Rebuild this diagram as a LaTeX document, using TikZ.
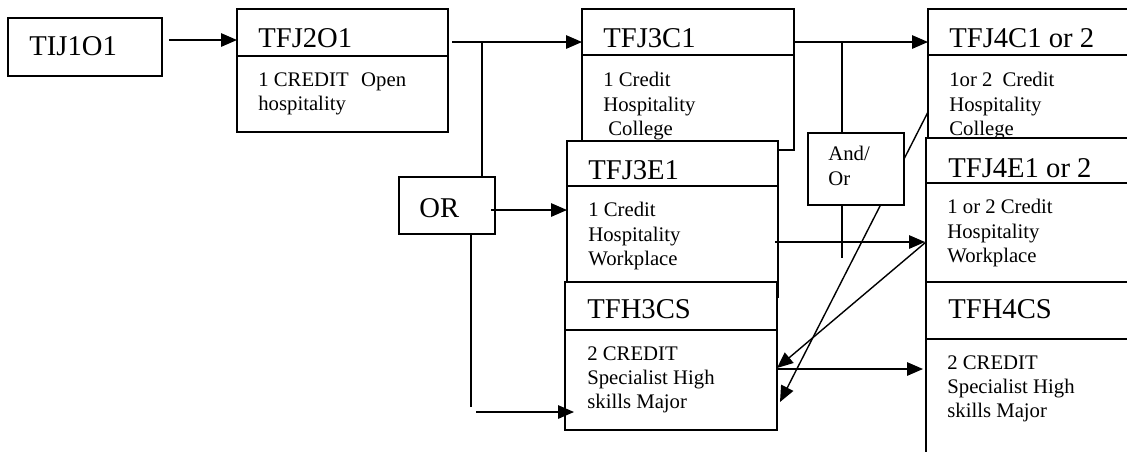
\documentclass[tikz,border=0pt]{standalone}
\usepackage{fontspec}
\setmainfont{Liberation Serif}
\usetikzlibrary{arrows.meta,calc,fit}

\tikzset{
  box/.style={draw, fill=white, line width=0.7pt, inner sep=0pt, outer sep=0pt},
  rule/.style={line width=0.7pt},
  course/.style={font=\fontsize{16.3}{19}\selectfont, inner sep=0pt, anchor=base west},
  info/.style={font=\fontsize{11.8}{13.9}\selectfont, inner sep=0pt, align=left, anchor=north west},
  line/.style={line width=0.8pt},
  link/.style={line width=0.8pt, -{Triangle[length=0.32cm,width=0.27cm]}}
}

\begin{document}
\begin{tikzpicture}[x=0.02cm, y=-0.02cm]
\useasboundingbox (0,0) rectangle (1127,451);

% grade 9 and 10
\node[box, fit={(8,18) (162,76)}] (tij) {};
\node[course] (tijt) at (29,55) {TIJ1O1};

\node[box, fit={(237,9) (448,132)}] (tfj2) {};
\draw[rule] (tfj2.west |- 0,56) -- (tfj2.east |- 0,56);
\node[course] (tfj2t) at (258,47) {TFJ2O1};
\node[info] (tfj2b) at (258,72) {1 CREDIT\hspace{0.25cm}Open\\hospitality};

% grade 11
\node[box, fit={(582,9) (794,150)}] (tfj3c) {};
\draw[rule] (tfj3c.west |- 0,55) -- (tfj3c.east |- 0,55);
\node[course] (tfj3ct) at (603,47) {TFJ3C1};
\node[info] (tfj3cb) at (603,72) {1 Credit\\Hospitality\\\hspace{0.1cm}College};

\node[box, fit={(567,141) (778,297)}] (tfj3e) {};
\draw[rule] (tfj3e.west |- 0,186) -- (tfj3e.east |- 0,186);
\node[course] (tfj3et) at (588,179) {TFJ3E1};
\node[info] (tfj3eb) at (588,202) {1 Credit\\Hospitality\\Workplace};

\node[box, fit={(565,282) (777,430)}] (tfh3) {};
\draw[rule] (tfh3.west |- 0,330) -- (tfh3.east |- 0,330);
\node[course] (tfh3t) at (587,318) {TFH3CS};
\node[info] (tfh3b) at (587,346) {2 CREDIT\\Specialist High\\skills Major};

% grade 12
\node[box, fit={(928,9) (1140,150)}] (tfj4c) {};
\draw[rule] (tfj4c.west |- 0,55) -- (tfj4c.east |- 0,55);
\node[course] (tfj4ct) at (949,47) {TFJ4C1 or 2};
\node[info] (tfj4cb) at (949,72) {1or 2\hspace{0.2cm}Credit\\Hospitality\\College};

\node[box, fit={(926,138) (1140,297)}] (tfj4e) {};
\draw[rule] (tfj4e.west |- 0,183) -- (tfj4e.east |- 0,183);
\node[course] (tfj4et) at (948,177) {TFJ4E1 or 2};
\node[info] (tfj4eb) at (947,199) {1 or 2 Credit\\Hospitality\\Workplace};

\node[box, fit={(926,282) (1140,470)}] (tfh4) {};
\draw[rule] (tfh4.west |- 0,339) -- (tfh4.east |- 0,339);
\node[course] (tfh4t) at (948,318) {TFH4CS};
\node[info] (tfh4b) at (947,355) {2 CREDIT\\Specialist High\\skills Major};

% connectors
\coordinate (j2) at (482,42);
\coordinate (j3) at (842,42);
\coordinate (orend) at (471,407);
\coordinate (orfeed) at (476,412);
\coordinate (aoend) at (842,258);

\draw[link] ($(tij.east |- 0,40)+(7,0)$) -- (tfj2.west |- 0,40);
\draw[link] ($(tfj2.east |- j2)+(4,0)$) -- (tfj3c.west |- j2);
\draw[link] (tfj3c.east |- j3) -- (tfj4c.west |- j3);
\draw[link] ($(tfj3e.east |- 0,242)+(-3,0)$) -- ($(tfj4e.west |- 0,242)+(-1,0)$);
\draw[link] (tfj4e.west |- 0,242) -- (tfh3.east |- 0,368);
\draw[link] (tfh3.east |- 0,369) -- ($(tfh4.west |- 0,369)+(-3,0)$);
\draw[link] (tfj4c.west |- 0,112) -- ($(tfh3.east |- 0,402)+(3,0)$);
\draw[link] (orfeed) -- ($(tfh3.west |- orfeed)+(9,0)$);

% choice boxes
\node[box, fit={(399,177) (495,234)}] (or) {};
\node[course] (ort) at (419,217) {OR};
\node[box, fit={(808,133) (904,205)}] (andor) {};
\node[info] (andort) at (828,146) {And/\\Or};

\draw[line] (j2) -- (or.north -| j2);
\draw[link] ($(or.east |- 0,210)+(-4,0)$) -- (tfj3e.west |- 0,210);
\draw[line] (or.south -| orend) -- (orend);
\draw[line] (j3) -- (andor.north -| j3);
\draw[line] (andor.south -| aoend) -- (aoend);

\end{tikzpicture}
\end{document}
